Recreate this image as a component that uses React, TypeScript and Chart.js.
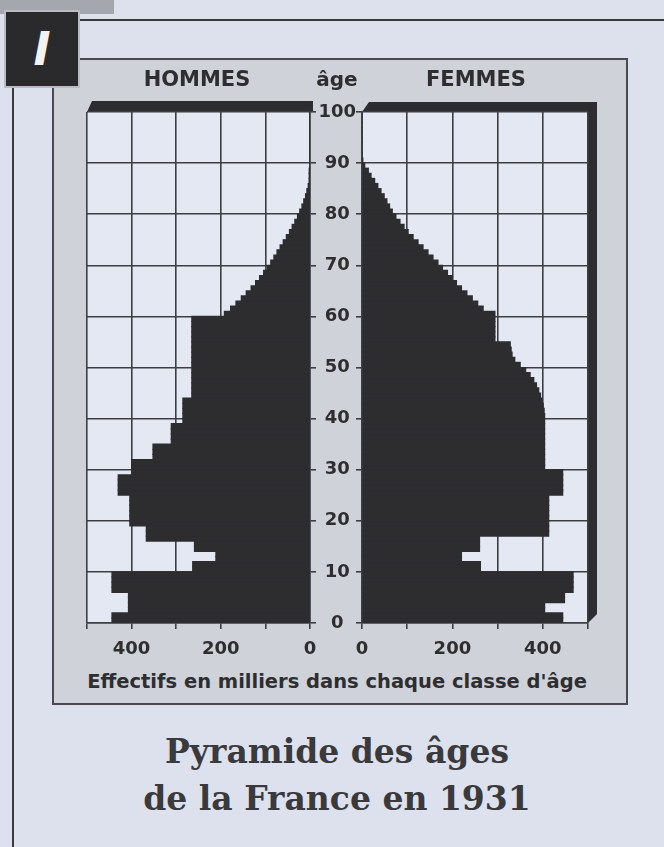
import React, { useEffect, useRef } from "react";
import { Chart, registerables } from "chart.js";

Chart.register(...registerables);

// ---- DATA ----
// age classes (single years, 0 to 99)
const AGES: number[] = Array.from({ length: 100 }, (_, i) => i);

// Effectifs en milliers — HOMMES
const HOMMES: number[] = [
  444, 444, 407, 407, 407, 407, 444, 444, 444, 444,
  263, 263, 211, 211, 259, 259, 367, 367, 367, 404,
  404, 404, 404, 404, 404, 430, 430, 430, 430, 400,
  400, 400, 352, 352, 352, 311, 311, 311, 311, 285,
  285, 285, 285, 285, 265, 265, 265, 265, 265, 265,
  265, 265, 265, 265, 265, 265, 265, 265, 265, 265,
  192, 178, 166, 154, 143, 132, 122, 113, 104, 96,
  88, 81, 74, 67, 60, 53, 46, 40, 34, 28,
  23, 18, 14, 10, 7, 4, 2, 1, 0.5, 0,
  0, 0, 0, 0, 0, 0, 0, 0, 0, 0,
];

// Effectifs en milliers — FEMMES
const FEMMES: number[] = [
  444, 444, 404, 404, 448, 448, 467, 467, 467, 467,
  262, 262, 220, 220, 260, 260, 260, 413, 413, 413,
  413, 413, 413, 413, 413, 444, 444, 444, 444, 444,
  404, 404, 404, 404, 404, 404, 404, 404, 404, 404,
  404, 403, 401, 398, 395, 391, 386, 380, 372, 362,
  350, 338, 332, 330, 328, 294, 294, 294, 294, 294,
  294, 268, 256, 244, 232, 220, 209, 199, 189, 178,
  168, 157, 146, 135, 124, 113, 102, 93, 84, 75,
  67, 61, 55, 49, 42, 35, 28, 20, 14, 6,
  1, 0, 0, 0, 0, 0, 0, 0, 0, 0,
];

const AGE_MIN = 0;
const AGE_MAX = 100;
const AGE_STEP = 10;
const VALUE_MIN = 0;
const VALUE_MAX = 500;
const VALUE_STEP = 100;
const VALUE_LABELS: number[] = [0, 200, 400];

const TITLE_H = "HOMMES";
const TITLE_F = "FEMMES";
const TITLE_AGE = "âge";
const AXIS_TITLE = "Effectifs en milliers dans chaque classe d'âge";
const CAPTION_1 = "Pyramide des âges";
const CAPTION_2 = "de la France en 1931";

// ---- STYLE ----
const PAGE_BG = "#dce1ed";
const PANEL_BG = "#cfd2d9";
const PLOT_BG = "#e4e8f3";
const INK = "#2d2d30";
const GRID = "#3d3e43";
const TEXT = "#2e2e30";
const SANS = "'DejaVu Sans', sans-serif";
const SERIF = "'DejaVu Serif', serif";

type Side = "left" | "right";

const boxPlugin = (side: Side) => ({
  id: "box3d_" + side,
  beforeDraw(chart: any) {
    const { ctx, chartArea } = chart;
    const { left, top, right, bottom } = chartArea;
    ctx.save();
    ctx.fillStyle = PLOT_BG;
    ctx.fillRect(left, top, right - left, bottom - top);
    ctx.fillStyle = INK;
    ctx.beginPath();
    if (side === "left") {
      ctx.moveTo(left, top);
      ctx.lineTo(left + 5, top - 11);
      ctx.lineTo(right + 3, top - 11);
      ctx.lineTo(right + 3, top);
    } else {
      ctx.moveTo(left, top);
      ctx.lineTo(left + 7, top - 10);
      ctx.lineTo(right + 9, top - 10);
      ctx.lineTo(right + 9, bottom - 9);
      ctx.lineTo(right, bottom);
      ctx.lineTo(right, top);
    }
    ctx.closePath();
    ctx.fill();
    ctx.restore();
  },
});

function makeConfig(side: Side, values: number[]): any {
  const tickFont = { family: SANS, weight: "bold", size: 18 };
  const grid = { color: GRID, lineWidth: 1.6, tickLength: 6, drawTicks: true, tickColor: GRID, tickWidth: 1.6, offset: false };
  const border = { color: GRID, width: 1.6 };
  return {
    type: "bar",
    data: {
      datasets: [
        {
          data: AGES.map((a, i) => ({ x: values[i], y: a + 0.5 })),
          backgroundColor: INK,
          borderWidth: 0,
          barPercentage: 1,
          categoryPercentage: 1,
          inflateAmount: 0.6,
        },
      ],
    },
    plugins: [boxPlugin(side)],
    options: {
      indexAxis: "y",
      responsive: false,
      animation: false,
      layout: {
        padding: side === "left" ? { left: 27, top: 22, right: 0, bottom: 0 } : { left: 0, top: 22, right: 22, bottom: 0 },
      },
      plugins: { legend: { display: false }, tooltip: { enabled: false }, title: { display: false } },
      scales: {
        x: {
          type: "linear",
          reverse: side === "left",
          min: VALUE_MIN,
          max: VALUE_MAX,
          offset: false,
          grid,
          border,
          ticks: {
            stepSize: VALUE_STEP,
            autoSkip: false,
            maxRotation: 0,
            padding: 10,
            color: TEXT,
            font: tickFont,
            callback: (v: number) => (VALUE_LABELS.includes(v) ? String(v) : ""),
          },
          afterFit: (s: any) => {
            s.height = 47;
          },
        },
        y: {
          type: "linear",
          position: side === "left" ? "right" : "left",
          min: AGE_MIN,
          max: AGE_MAX,
          offset: false,
          grid,
          border,
          ticks: {
            stepSize: AGE_STEP,
            display: side === "right",
            crossAlign: "center",
            padding: 0,
            color: TEXT,
            font: tickFont,
          },
          afterFit: (s: any) => {
            s.width = side === "left" ? 20 : 52;
          },
        },
      },
    },
  };
}

function PyramidHalf(props: { side: Side; values: number[]; style: React.CSSProperties; w: number; h: number }) {
  const ref = useRef<HTMLCanvasElement | null>(null);
  useEffect(() => {
    if (!ref.current) return;
    const chart = new Chart(ref.current, makeConfig(props.side, props.values));
    return () => chart.destroy();
  }, []);
  return (
    <div style={{ position: "absolute", ...props.style }}>
      <canvas ref={ref} width={props.w} height={props.h} style={{ display: "block" }} />
    </div>
  );
}

const abs = (s: React.CSSProperties): React.CSSProperties => ({ position: "absolute", ...s });

export default function App() {
  return (
    <div style={abs({ left: 0, top: 0, width: 664, height: 847, background: PAGE_BG, overflow: "hidden" })}>
      {/* top decorations */}
      <div style={abs({ left: 0, top: 0, width: 114, height: 14, background: "#a4a7ae" })} />
      <div style={abs({ left: 70, top: 19, width: 600, height: 2, background: "#3a3a3d" })} />
      <div style={abs({ left: 12, top: 86, width: 2, height: 770, background: "#3a3a3d" })} />
      {/* panel */}
      <div
        style={abs({
          left: 52,
          top: 58,
          width: 576,
          height: 647,
          background: PANEL_BG,
          border: "2px solid #4a4a4e",
          boxSizing: "border-box",
        })}
      />
      {/* badge */}
      <div
        style={abs({
          left: 4,
          top: 10,
          width: 76,
          height: 78,
          background: "#2a2a2c",
          border: "2px solid #b9bcc3",
          boxSizing: "border-box",
          color: "#f2f2f2",
          fontFamily: SANS,
          fontWeight: "bold",
          fontStyle: "italic",
          fontSize: 46,
          lineHeight: "74px",
          textAlign: "center",
        })}
      >
        I
      </div>

      <PyramidHalf side="left" values={HOMMES} style={{ left: 60, top: 90 }} w={270} h={580} />
      <PyramidHalf side="right" values={FEMMES} style={{ left: 310, top: 90 }} w={300} h={580} />

      {/* headings */}
      <div style={abs({ left: 97, top: 69, width: 200, textAlign: "center", fontFamily: SANS, fontWeight: "bold", fontSize: 21, lineHeight: "21px", color: TEXT })}>
        {TITLE_H}
      </div>
      <div style={abs({ left: 297, top: 69, width: 80, textAlign: "center", fontFamily: SANS, fontWeight: "bold", fontSize: 20, lineHeight: "20px", color: TEXT })}>
        {TITLE_AGE}
      </div>
      <div style={abs({ left: 376, top: 69, width: 200, textAlign: "center", fontFamily: SANS, fontWeight: "bold", fontSize: 21, lineHeight: "21px", color: TEXT })}>
        {TITLE_F}
      </div>
      <div style={abs({ left: 37, top: 672, width: 600, textAlign: "center", fontFamily: SANS, fontWeight: "bold", fontSize: 19.5, lineHeight: "19.5px", color: TEXT, whiteSpace: "nowrap" })}>
        {AXIS_TITLE}
      </div>

      {/* caption */}
      <div style={abs({ left: 37, top: 728, width: 600, textAlign: "center", fontFamily: SERIF, fontWeight: "bold", fontSize: 33, lineHeight: "47px", color: "#3a3a3c" })}>
        <div>{CAPTION_1}</div>
        <div>{CAPTION_2}</div>
      </div>
    </div>
  );
}
